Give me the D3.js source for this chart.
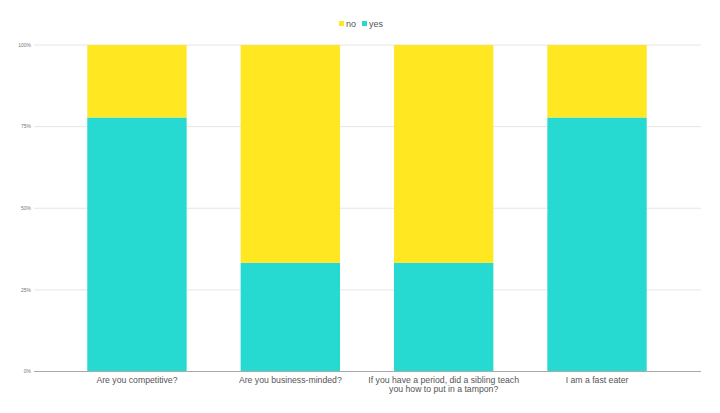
<!DOCTYPE html>
<html>
<head>
<meta charset="utf-8">
<script src="https://cdn.jsdelivr.net/npm/d3@7"></script>
<style>
html,body{margin:0;padding:0;background:#fff;}
svg{display:block;font-family:"Liberation Sans",Arial,sans-serif;}
</style>
</head>
<body>
<svg id="chart" width="720" height="413"></svg>
<script>
const categories = [
  ["Are you competitive?"],
  ["Are you business-minded?"],
  ["If you have a period, did a sibling teach", "you how to put in a tampon?"],
  ["I am a fast eater"]
];
const yesValues = [77.8, 33.3, 33.3, 77.8];
const noValues = [22.2, 66.7, 66.7, 22.2];
const seriesNames = ["no", "yes"];
const seriesColors = ["#FFE722", "#26DAD2"];
const yTicks = [0, 25, 50, 75, 100];
const yTickLabels = ["0%", "25%", "50%", "75%", "100%"];

const svg = d3.select("#chart");
const gridLeft = 34, gridRight = 701;
const x = d3.scaleBand()
  .domain(d3.range(categories.length))
  .range([60.3, 673.7])
  .paddingInner(0.352)
  .paddingOuter(0.176);
const y = d3.scaleLinear().domain([0, 100]).range([371.5, 45]);

// gridlines
svg.append("g").selectAll("line").data(yTicks.filter(t => t > 0)).join("line")
  .attr("x1", gridLeft).attr("x2", gridRight)
  .attr("y1", d => y(d)).attr("y2", d => y(d))
  .attr("stroke", "#e6e6e6").attr("stroke-width", 1);

// y tick labels
svg.append("g").selectAll("text").data(yTicks).join("text")
  .attr("x", 31).attr("y", d => y(d))
  .attr("dy", "0.35em")
  .attr("text-anchor", "end")
  .attr("font-size", 5)
  .attr("fill", "#777")
  .text((d, i) => yTickLabels[i]);

// bars
const rows = categories.map((c, i) => ({i, yes: yesValues[i], no: noValues[i]}));
const stack = d3.stack().keys(["yes", "no"])(rows);
const colorOf = {no: seriesColors[0], yes: seriesColors[1]};
svg.append("g").selectAll("g").data(stack).join("g")
  .attr("fill", d => colorOf[d.key])
  .selectAll("rect").data(d => d).join("rect")
  .attr("x", d => x(d.data.i))
  .attr("width", x.bandwidth())
  .attr("y", d => y(d[1]))
  .attr("height", d => y(d[0]) - y(d[1]));

// baseline
svg.append("line")
  .attr("x1", gridLeft).attr("x2", gridRight)
  .attr("y1", y(0)).attr("y2", y(0))
  .attr("stroke", "#aaa").attr("stroke-width", 1);

// category labels
const lab = svg.append("g").selectAll("text").data(categories).join("text")
  .attr("x", (d, i) => x(i) + x.bandwidth() / 2)
  .attr("y", 382.5)
  .attr("text-anchor", "middle")
  .attr("font-size", 8.7)
  .attr("fill", "#555");
lab.selectAll("tspan").data(d => d).join("tspan")
  .attr("x", function() { return this.parentNode.getAttribute("x"); })
  .attr("dy", (d, i) => i === 0 ? 0 : 9)
  .text(d => d);

// legend
const legend = svg.append("g");
const legendItems = [
  {name: seriesNames[0], color: seriesColors[0], x: 339},
  {name: seriesNames[1], color: seriesColors[1], x: 362}
];
legendItems.forEach(it => {
  legend.append("rect").attr("x", it.x).attr("y", 21).attr("width", 5).attr("height", 5).attr("fill", it.color);
  legend.append("text").attr("x", it.x + 7).attr("y", 23.5).attr("dy", "0.35em")
    .attr("font-size", 9).attr("fill", "#555").text(it.name);
});
</script>
</body>
</html>
